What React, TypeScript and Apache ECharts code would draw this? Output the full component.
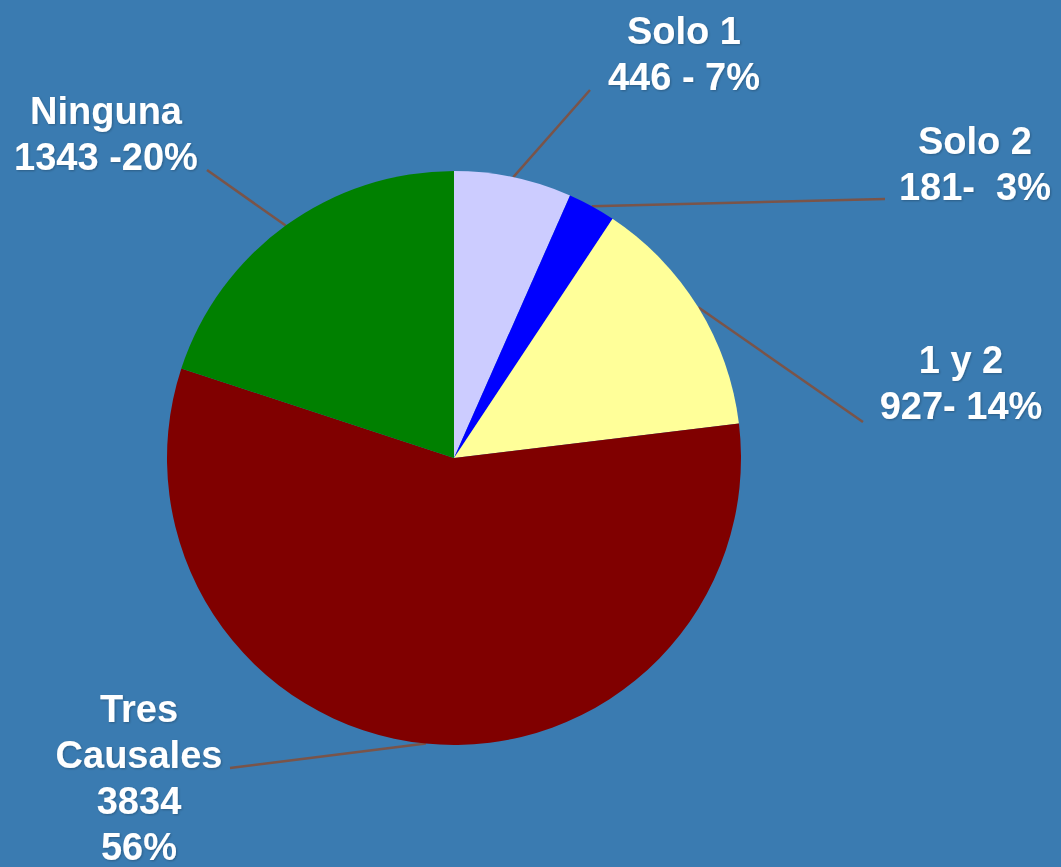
import React, { useEffect, useRef } from "react";
import * as echarts from "echarts";

const categories = ["Solo 1", "Solo 2", "1 y 2", "Tres Causales", "Ninguna"];
const values = [446, 181, 927, 3834, 1343];
const labelTexts = [
  "Solo 1\n446 - 7%",
  "Solo 2\n181- \u00a03%",
  "1 y 2\n927- 14%",
  "Tres\nCausales\n3834\n56%",
  "Ninguna\n1343 -20%",
];
const sliceColors = ["#ccccff", "#0000ff", "#ffff99", "#800000", "#008000"];

// label layout (positions of the text blocks and where their leader lines end)
const labelCenters = [
  [684, 54],
  [975, 164],
  [961, 383],
  [139, 778],
  [106, 134],
];
const lineEnds = [
  [590, 90],
  [885, 199],
  [863, 422],
  [230, 768],
  [207, 170],
];

const CENTER = [454, 458];
const RADIUS = 287;

export default function App() {
  const ref = useRef<HTMLDivElement>(null);
  useEffect(() => {
    document.body.style.margin = "0";
    const chart = echarts.init(ref.current!, null, { renderer: "svg" });
    const total = values.reduce((a, b) => a + b, 0);
    const starts: number[][] = [];
    let acc = 0;
    values.forEach((v) => {
      const mid = ((acc + v / 2) / total) * Math.PI * 2;
      starts.push([CENTER[0] + RADIUS * Math.sin(mid), CENTER[1] - RADIUS * Math.cos(mid)]);
      acc += v;
    });
    chart.setOption({
      animation: false,
      backgroundColor: "#3a7bb1",
      series: [
        {
          type: "pie",
          center: CENTER,
          radius: RADIUS,
          startAngle: 90,
          clockwise: true,
          avoidLabelOverlap: false,
          silent: true,
          data: categories.map((c, i) => ({
            name: c,
            value: values[i],
            itemStyle: { color: sliceColors[i] },
            label: { formatter: labelTexts[i] },
          })),
          label: {
            show: true,
            position: "outside",
            color: "#ffffff",
            fontFamily: "Liberation Sans, Arial, sans-serif",
            fontWeight: "bold",
            fontSize: 38,
            lineHeight: 46,
            align: "center",
            textShadowColor: "rgba(0,0,0,0.25)",
            textShadowBlur: 2,
            textShadowOffsetX: 1,
            textShadowOffsetY: 1,
          },
          labelLine: {
            show: true,
            length: 20,
            length2: 20,
            lineStyle: { color: "#7a5449", width: 2.5 },
          },
          labelLayout: (params: any) => {
            const i = params.dataIndex;
            const s = starts[i];
            const e = lineEnds[i];
            return {
              x: labelCenters[i][0],
              y: labelCenters[i][1],
              align: "center",
              verticalAlign: "middle",
              labelLinePoints: [
                [s[0], s[1]],
                [e[0], e[1]],
                [e[0], e[1]],
              ],
            };
          },
        },
      ],
    });
    return () => chart.dispose();
  }, []);
  return <div ref={ref} style={{ width: 1061, height: 867 }} />;
}
